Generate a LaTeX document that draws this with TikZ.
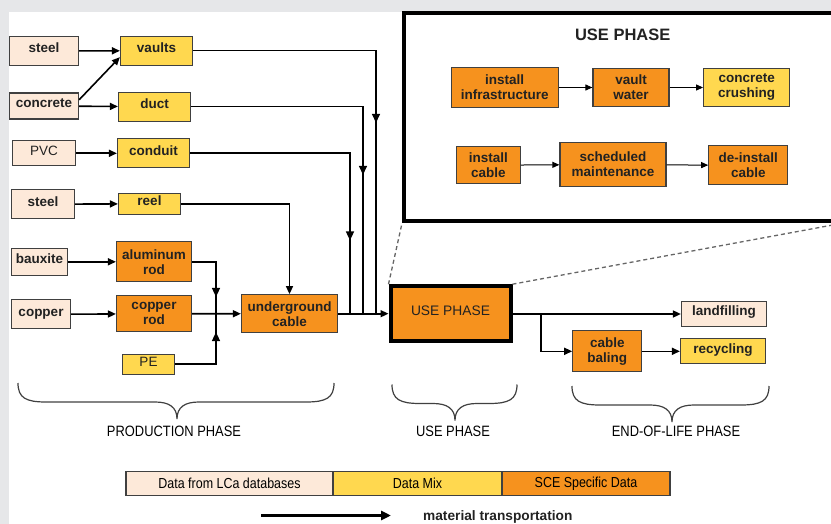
\documentclass[tikz,border=0pt]{standalone}
\usepackage{fontspec}
\setmainfont{Liberation Sans}
\newfontfamily\narrowsans[FakeStretch=0.86]{Liberation Sans}
\usetikzlibrary{arrows.meta,decorations.markings}

\definecolor{lcafill}{HTML}{FDE9D9}
\definecolor{mixfill}{HTML}{FFD84F}
\definecolor{scefill}{HTML}{F6921E}
\definecolor{boxline}{HTML}{404040}
\definecolor{txt}{HTML}{222222}
\definecolor{frame}{HTML}{E6E7E9}

\newcommand\boxfont{\bfseries\fontsize{13.5}{15}\selectfont}

\tikzset{
  box/.style={draw=boxline, line width=1.2pt, inner sep=1pt, text=txt,
    font=\boxfont, align=center},
  lca/.style={box, fill=lcafill},
  mix/.style={box, fill=mixfill},
  sce/.style={box, fill=scefill},
  one/.style={text height=10pt, text depth=6pt},
  sz/.style 2 args={minimum width=#1pt, minimum height=#2pt},
  flow/.style={line width=1.6pt, -{Triangle[length=8pt,width=7pt]}},
  thinflow/.style={line width=1pt, -{Triangle[length=7pt,width=6pt]}},
  midtip/.style={postaction={decorate}, decoration={markings,
    mark=at position #1 with {\arrow{Triangle[length=9pt,width=8pt]}}}},
  phaselbl/.style={font=\narrowsans\fontsize{15}{17}\selectfont, text=black},
  lgcell/.style={sz={#1}{24}, font=\narrowsans\fontsize{14.5}{16}\selectfont, text=black},
}

\begin{document}
\begin{tikzpicture}[x=1pt, y=-1pt, line join=miter]
  \useasboundingbox (0,0) rectangle (831,524);
  % grey frame
  \fill[frame] (0,0) rectangle (831,12);
  \fill[frame] (0,0) rectangle (9,524);

  % raw materials
  \node[lca, one, sz={69}{29}] (steelA) at (44,51) {steel};
  \node[lca, one, sz={69}{26}] (concrete) at (44,106) {concrete};
  \node[lca, one, sz={63}{25}, font=\fontsize{13.5}{15}\selectfont] (pvc) at (44,153.3) {PVC};
  \node[lca, one, sz={63}{29}] (steelB) at (43,204.2) {steel};
  \node[lca, one, sz={56}{27}] (bauxite) at (39.5,261.8) {bauxite};
  \node[lca, one, sz={59}{29}] (copper) at (41,314.3) {copper};
  % components
  \node[mix, one, sz={72}{29}] (vaults) at (156.5,50.7) {vaults};
  \node[mix, one, sz={72}{29}] (duct) at (154.5,106.7) {duct};
  \node[mix, one, sz={72}{29}] (conduit) at (153.5,153.3) {conduit};
  \node[mix, one, sz={62}{21}] (reel) at (149.5,203.8) {reel};
  \node[sce, sz={75}{40}] (alrod) at (154,261.8) {aluminum\\rod};
  \node[sce, sz={75}{36}] (cprod) at (154,313.8) {copper\\rod};
  \node[mix, one, sz={52}{20}, font=\fontsize{13.5}{15}\selectfont] (pe) at (148.5,364.2) {PE};
  \node[sce, sz={96}{38}] (ugcable) at (289.5,313.7) {underground\\cable};

  % use phase
  \node[sce, draw=black, line width=4pt, sz={120}{55}, one,
    font=\fontsize{13.8}{15}\selectfont] (use) at (450.5,313.7) {USE PHASE};

  % end of life
  \node[lca, one, sz={85}{25}] (landfill) at (724,314) {landfilling};
  \node[sce, sz={69}{41}] (baling) at (607.3,351.3) {cable\\baling};
  \node[mix, one, sz={85}{25}] (recyc) at (723,351.3) {recycling};

  % zoomed use phase
  \node[draw=black, line width=4pt, sz={436}{208}] (zoombox) at (622,117.3) {};
  \node[font=\bfseries\fontsize{16.5}{18}\selectfont, text=txt] (ztitle) at (622.7,35) {USE PHASE};
  \node[sce, sz={107}{40}] (infra) at (504.7,87.5) {install\\infrastructure};
  \node[sce, sz={76}{38}] (vwater) at (631,87.5) {vault\\water};
  \node[mix, sz={86}{38}] (crush) at (746.7,87.5) {concrete\\crushing};
  \node[sce, sz={64}{37}] (icable) at (488.3,165.2) {install\\cable};
  \node[sce, sz={106}{44}] (sched) at (613,164.5) {scheduled\\maintenance};
  \node[sce, sz={79}{39}] (deinst) at (748.3,165.4) {de-install\\cable};

  \coordinate (jv) at (376,313.7);
  \coordinate (jd) at (363,313.7);
  \coordinate (jc) at (350,313.7);
  \coordinate (jr) at (216,313.7);
  \coordinate (jb) at (541,313.7);

  % material flows
  \draw[flow] (steelA) -- (vaults);
  \draw[flow] (concrete.10) -- (vaults.190);
  \draw[flow] (concrete) -- (duct);
  \draw[flow] (pvc) -- (conduit);
  \draw[flow] (steelB) -- (reel);
  \draw[flow] (bauxite) -- (alrod);
  \draw[flow] (copper) -- (cprod);
  \draw[line width=1.6pt, midtip=59pt] (alrod.east) -| (jr);
  \draw[line width=1.6pt, midtip=73pt] (pe.east) -| (jr);
  \draw[flow] (cprod) -- (ugcable);
  \draw[flow] (reel.east) -| (ugcable.north);
  \draw[line width=1.6pt, midtip=255pt] (vaults.east) -| (jv);
  \draw[line width=1.6pt, midtip=240pt] (duct.east) -| (jd);
  \draw[line width=1.6pt, midtip=247pt] (conduit.east) -| (jc);
  \draw[flow] (ugcable) -- (use);
  \draw[flow] (use.east |- landfill) -- (landfill);
  \draw[flow] (jb) |- (baling);
  \draw[flow] (baling) -- (recyc);

  % inside use phase
  \draw[thinflow] (infra) -- (vwater);
  \draw[thinflow] (vwater) -- (crush);
  \draw[thinflow] (icable) -- (sched);
  \draw[thinflow] (sched) -- (deinst);

  % zoom lines
  \draw[gray!80!black, line width=1.3pt, dash pattern=on 4pt off 3pt]
    (use.north west) -- (zoombox.south west)
    (use.north east) -- (zoombox.south east);

  % phase braces
  \foreach \l/\t/\r/\h in {18/177/334/402, 392/455/517/403.5, 572/672/769/405} {
    \draw[boxline, line width=1.2pt]
      (\l,\h-19) .. controls (\l,\h-4) and (\l+8,\h) .. (\l+28,\h)
      -- (\t-22,\h) .. controls (\t-8,\h) and (\t,\h+5) .. (\t,\h+17)
      .. controls (\t,\h+5) and (\t+8,\h) .. (\t+22,\h)
      -- (\r-28,\h) .. controls (\r-8,\h) and (\r,\h-4) .. (\r,\h-19);
  }
  \node[phaselbl] (prodlbl) at (174,431.7) {PRODUCTION PHASE};
  \node[phaselbl] (uselbl) at (453,431.7) {USE PHASE};
  \node[phaselbl] (eollbl) at (676,431.7) {END-OF-LIFE PHASE};

  % legend
  \node[lca, lgcell=207] (lgdb) at (229.5,483.3) {Data from LCa databases};
  \node[mix, lgcell=169] (lgmix) at (417.5,483.3) {Data Mix};
  \node[sce, lgcell=168] (lgsce) at (586,483.3) {SCE Specific Data};
  \coordinate (lgA) at (261,515.5);
  \coordinate (lgB) at (391,515.5);
  \draw[line width=3pt, -{Triangle[length=10pt,width=9pt]}] (lgA) -- (lgB);
  \node[anchor=base west, font=\bfseries\fontsize{13.7}{15}\selectfont, text=txt, inner sep=0pt] (lgtxt) at (423,520.5) {material transportation};
\end{tikzpicture}
\end{document}
